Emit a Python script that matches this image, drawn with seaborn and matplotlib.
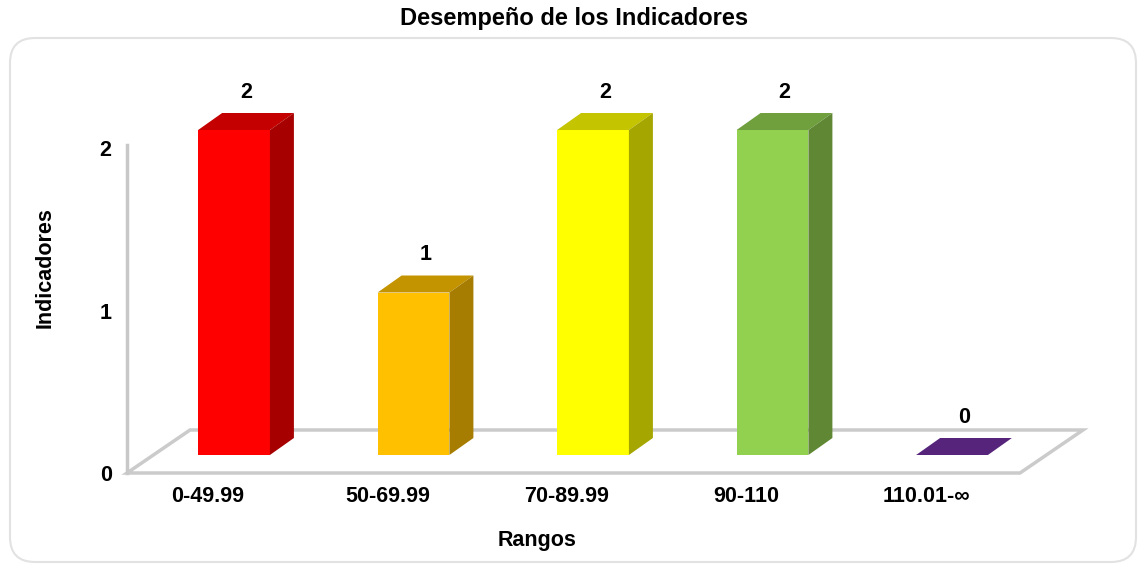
import numpy as np
import pandas as pd
import seaborn as sns
import matplotlib.pyplot as plt
from matplotlib.patches import Polygon, FancyBboxPatch

# data
rangos = ["0-49.99", "50-69.99", "70-89.99", "90-110", "110.01-∞"]
indicadores = [2, 1, 2, 2, 0]
colores = ["#ff0000", "#ffc000", "#ffff00", "#92d050", "#7030a0"]
y_ticks = [0, 1, 2]

df = pd.DataFrame({"Rangos": rangos, "Indicadores": indicadores})

sns.set_theme(style="white")
plt.rcParams["font.family"] = ["Liberation Sans", "DejaVu Sans"]
plt.rcParams["font.weight"] = "bold"
plt.rcParams["text.color"] = "black"
plt.rcParams["axes.labelcolor"] = "black"

W, H = 1140, 566
fig = plt.figure(figsize=(W / 100, H / 100), dpi=100)
# axes = front plane of the pseudo-3D box
ax = fig.add_axes([127 / W, 93 / H, 893 / W, 328 / H])

sns.barplot(data=df, x="Rangos", y="Indicadores", hue="Rangos",
            palette=colores, width=0.4, saturation=1, linewidth=0,
            legend=False, ax=ax, zorder=3)

xlim = (-0.4513, 4.5237)
ylim = (0, 2.0185)
ax.set_xlim(*xlim)
ax.set_ylim(*ylim)

# pixel -> data unit conversion for depth offsets
px_x = 893 / (xlim[1] - xlim[0])
px_y = 328 / (ylim[1] - ylim[0])
sx, sy = 26 / px_x, 18 / px_y      # bars sit back from the front plane
bx, by = 24 / px_x, 17 / px_y      # bar depth
fx, fy = 63 / px_x, 43 / px_y      # floor depth

# floor
floor = Polygon([(xlim[0], 0), (xlim[1], 0), (xlim[1] + fx, fy), (xlim[0] + fx, fy)],
                closed=True, facecolor="white", edgecolor="#cbcbcb", lw=2.5,
                clip_on=False, zorder=1)
ax.add_patch(floor)

bars = [p for p in ax.patches if p is not floor]
for p in bars:
    p.set_x(p.get_x() + sx)
    p.set_y(sy)
    p.set_clip_on(False)
    x0, w, h = p.get_x(), p.get_width(), p.get_height()
    x1, top = x0 + w, sy + h
    rgb = np.array(p.get_facecolor()[:3])
    ax.add_patch(Polygon([(x0, top), (x1, top), (x1 + bx, top + by), (x0 + bx, top + by)],
                         closed=True, facecolor=rgb * 0.77, lw=0, clip_on=False, zorder=4))
    if h > 0:
        ax.add_patch(Polygon([(x1, sy), (x1 + bx, sy + by), (x1 + bx, top + by), (x1, top)],
                             closed=True, facecolor=rgb * 0.65, lw=0, clip_on=False, zorder=4))
    ax.annotate(f"{int(round(h))}", xy=(x0 + w / 2 + bx / 2, top + by), xytext=(0, 15),
                textcoords="offset points", ha="center", va="center", color="black",
                fontsize=15.5, fontweight="bold", annotation_clip=False)

# axes styling
for side in ["top", "right", "bottom"]:
    ax.spines[side].set_visible(False)
ax.spines["left"].set_color("#c8c8c8")
ax.spines["left"].set_linewidth(2.5)
ax.set_yticks(y_ticks)
ax.tick_params(axis="y", length=4, width=1.5, color="#b4b4b4", labelcolor="black",
               pad=7, labelsize=15.5)
ax.tick_params(axis="x", length=0, pad=9.5, labelsize=15.5, labelcolor="black")
ax.grid(False)

ax.set_ylabel("Indicadores", fontsize=15.5, fontweight="bold", color="black")
ax.yaxis.set_label_coords(-0.08, 0.625)
ax.set_xlabel("Rangos", fontsize=15.5, fontweight="bold", color="black")
ax.xaxis.set_label_coords(0.459, -0.174)

fig.text(0.504, 1 - 18 / H, "Desempeño de los Indicadores", ha="center", va="center",
         fontsize=17, fontweight="bold", color="black")

# rounded chart border
border = FancyBboxPatch((0.10, 0.04), 11.26, 5.24, boxstyle="round,pad=0,rounding_size=0.25",
                        transform=fig.dpi_scale_trans, facecolor="none",
                        edgecolor="#e2e2e2", lw=1.5, zorder=0)
fig.add_artist(border)

fig.savefig("out.png", dpi=100)
